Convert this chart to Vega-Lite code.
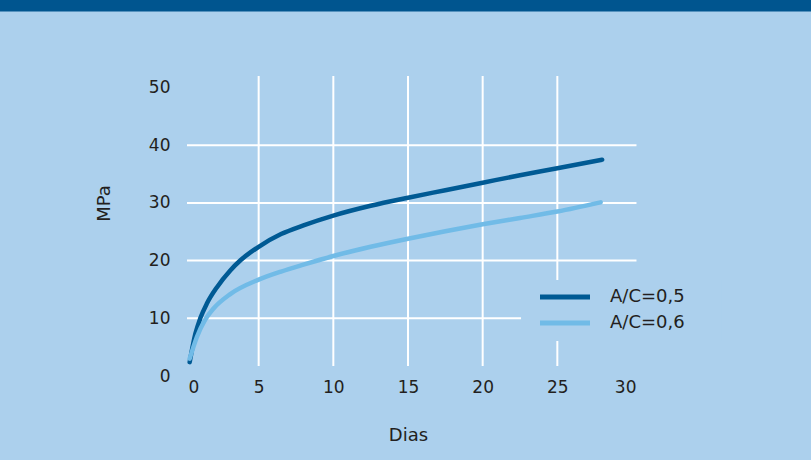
{
  "$schema": "https://vega.github.io/schema/vega-lite/v6.json",
  "width": 448,
  "height": 300,
  "autosize": {"type": "none"},
  "padding": {"left": 184, "top": 76, "right": 179, "bottom": 84},
  "background": "#acd0ed",
  "config": {
    "view": {"stroke": null},
    "font": "DejaVu Sans"
  },
  "datasets": {
    "curves": [
      {"dias": 0.38, "mpa": 2.4, "serie": "A/C=0,5"},
      {"dias": 0.76, "mpa": 7.3, "serie": "A/C=0,5"},
      {"dias": 1.09, "mpa": 10.0, "serie": "A/C=0,5"},
      {"dias": 1.54, "mpa": 12.6, "serie": "A/C=0,5"},
      {"dias": 2.21, "mpa": 15.4, "serie": "A/C=0,5"},
      {"dias": 3.1, "mpa": 18.3, "serie": "A/C=0,5"},
      {"dias": 3.8, "mpa": 20.1, "serie": "A/C=0,5"},
      {"dias": 5.0, "mpa": 22.4, "serie": "A/C=0,5"},
      {"dias": 6.5, "mpa": 24.6, "serie": "A/C=0,5"},
      {"dias": 8.0, "mpa": 26.1, "serie": "A/C=0,5"},
      {"dias": 10.0, "mpa": 27.8, "serie": "A/C=0,5"},
      {"dias": 12.5, "mpa": 29.5, "serie": "A/C=0,5"},
      {"dias": 15.0, "mpa": 30.9, "serie": "A/C=0,5"},
      {"dias": 17.5, "mpa": 32.2, "serie": "A/C=0,5"},
      {"dias": 20.0, "mpa": 33.5, "serie": "A/C=0,5"},
      {"dias": 22.5, "mpa": 34.8, "serie": "A/C=0,5"},
      {"dias": 25.0, "mpa": 36.0, "serie": "A/C=0,5"},
      {"dias": 28.0, "mpa": 37.5, "serie": "A/C=0,5"},
      {"dias": 0.38, "mpa": 3.0, "serie": "A/C=0,6"},
      {"dias": 0.87, "mpa": 6.8, "serie": "A/C=0,6"},
      {"dias": 1.43, "mpa": 9.8, "serie": "A/C=0,6"},
      {"dias": 1.98, "mpa": 11.7, "serie": "A/C=0,6"},
      {"dias": 3.1, "mpa": 14.2, "serie": "A/C=0,6"},
      {"dias": 5.0, "mpa": 16.7, "serie": "A/C=0,6"},
      {"dias": 6.5, "mpa": 18.1, "serie": "A/C=0,6"},
      {"dias": 8.0, "mpa": 19.3, "serie": "A/C=0,6"},
      {"dias": 10.0, "mpa": 20.8, "serie": "A/C=0,6"},
      {"dias": 12.5, "mpa": 22.4, "serie": "A/C=0,6"},
      {"dias": 15.0, "mpa": 23.8, "serie": "A/C=0,6"},
      {"dias": 17.5, "mpa": 25.1, "serie": "A/C=0,6"},
      {"dias": 20.0, "mpa": 26.3, "serie": "A/C=0,6"},
      {"dias": 22.5, "mpa": 27.4, "serie": "A/C=0,6"},
      {"dias": 25.0, "mpa": 28.5, "serie": "A/C=0,6"},
      {"dias": 27.9, "mpa": 30.1, "serie": "A/C=0,6"}
    ],
    "vgrid": [{"g": 5}, {"g": 10}, {"g": 15}, {"g": 20}, {"g": 25}],
    "hgrid": [{"g": 10}, {"g": 20}, {"g": 30}, {"g": 40}]
  },
  "layer": [
    {
      "data": {"values": [{"band": 1}]},
      "mark": {"type": "rect", "color": "#00558f", "clip": false},
      "encoding": {
        "x": {"datum": -14, "type": "quantitative", "scale": {"domain": [0, 30]}},
        "x2": {"datum": 45},
        "y": {"datum": 63.2, "type": "quantitative", "scale": {"domain": [0, 52]}},
        "y2": {"datum": 67}
      }
    },
    {
      "data": {"name": "vgrid"},
      "mark": {"type": "rule", "color": "#ffffff", "strokeWidth": 2},
      "encoding": {
        "x": {"field": "g", "type": "quantitative", "scale": {"domain": [0, 30]}},
        "y": {"datum": 1.73, "type": "quantitative", "scale": {"domain": [0, 52]}},
        "y2": {"datum": 52}
      }
    },
    {
      "data": {"name": "hgrid"},
      "mark": {"type": "rule", "color": "#ffffff", "strokeWidth": 2},
      "encoding": {
        "y": {"field": "g", "type": "quantitative", "scale": {"domain": [0, 52]}},
        "x": {"datum": 0.2, "type": "quantitative", "scale": {"domain": [0, 30]}},
        "x2": {"datum": 30.3}
      }
    },
    {
      "data": {"values": [{"box": 1}]},
      "mark": {"type": "rect", "color": "#acd0ed", "clip": false},
      "encoding": {
        "x": {"datum": 22.57, "type": "quantitative", "scale": {"domain": [0, 30]}},
        "x2": {"datum": 36},
        "y": {"datum": 6.07, "type": "quantitative", "scale": {"domain": [0, 52]}},
        "y2": {"datum": 16.65}
      }
    },
    {
      "data": {"name": "curves"},
      "mark": {"type": "line", "interpolate": "monotone", "strokeWidth": 4.5, "strokeCap": "round", "strokeJoin": "round"},
      "encoding": {
        "x": {
          "field": "dias", "type": "quantitative",
          "scale": {"domain": [0, 30]},
          "axis": {
            "title": "Dias",
            "values": [0, 5, 10, 15, 20, 25, 30],
            "grid": false, "domain": false, "ticks": false,
            "labelFont": "DejaVu Sans", "labelFontSize": 17, "labelColor": "#231f20",
            "labelPadding": 3,
            "labelFlush": true,
            "labelOffset": {"condition": {"test": "datum.value == 0 || datum.value == 30", "value": 4}, "value": 0},
            "titleFont": "DejaVu Sans", "titleFontSize": 18, "titleFontWeight": "normal", "titleColor": "#231f20",
            "titlePadding": 31
          }
        },
        "y": {
          "field": "mpa", "type": "quantitative",
          "scale": {"domain": [0, 52]},
          "axis": {
            "title": "MPa",
            "values": [0, 10, 20, 30, 40, 50],
            "grid": false, "domain": false, "ticks": false,
            "labelFont": "DejaVu Sans", "labelFontSize": 17, "labelColor": "#231f20",
            "labelPadding": 14,
            "titleFont": "DejaVu Sans", "titleFontSize": 18, "titleFontWeight": "normal", "titleColor": "#231f20",
            "titlePadding": 35,
            "titleY": 127
          }
        },
        "color": {
          "field": "serie", "type": "nominal",
          "scale": {"domain": ["A/C=0,5", "A/C=0,6"], "range": ["#005a94", "#71bbe7"]},
          "legend": {
            "title": null,
            "orient": "none",
            "legendX": 372,
            "legendY": 212,
            "padding": 0,
            "symbolType": "M-5,0H5",
            "symbolSize": 100,
            "symbolStrokeWidth": 5,
            "labelFont": "DejaVu Sans",
            "labelFontSize": 18,
            "labelColor": "#231f20",
            "labelOffset": 36,
            "rowPadding": 6
          }
        }
      }
    }
  ]
}
